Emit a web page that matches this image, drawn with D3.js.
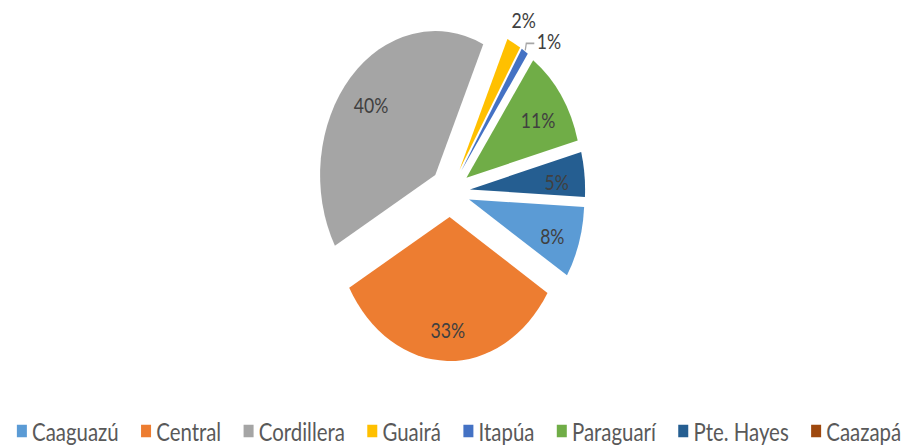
<!DOCTYPE html>
<html><head><meta charset="utf-8">
<script src="https://cdn.jsdelivr.net/npm/d3@7"></script>
<style>html,body{margin:0;padding:0;background:#fff;}</style>
</head><body>
<svg id="chart" width="911" height="445"></svg>
<script>
const categories = ["Caaguazú","Central","Cordillera","Guairá","Itapúa","Paraguarí","Pte. Hayes","Caazapá"];
const values = [8,33,40,2,1,11,5,0];
const colors = ["#5B9BD5","#ED7D31","#A5A5A5","#FFC000","#4472C4","#70AD47","#255E91","#9E480E"];

const W = 911, H = 445;
const SX = 0.8;               // horizontal squish of the original picture
const cx = 450 / SX, cy = 192;
const R = 144, EXPLODE = 25, LABEL_R = 109, OUT_R = 170;
const rad = Math.PI / 180;

const svg = d3.select("#chart");
const g = svg.append("g").attr("transform", `scale(${SX},1)`);

const data = categories.map((c, i) => ({cat: c, value: values[i], color: colors[i]}));
const pie = d3.pie().sort(null).value(d => d.value)
  .startAngle(93 * rad).endAngle(93 * rad + 2 * Math.PI);
const arcs = pie(data).filter(a => a.value > 0);
const arc = d3.arc().innerRadius(0).outerRadius(R);
const labelArc = d3.arc().innerRadius(LABEL_R).outerRadius(LABEL_R);

function off(a, d) {
  const m = (a.startAngle + a.endAngle) / 2;
  return [Math.sin(m) * d, -Math.cos(m) * d];
}

const slices = g.append("g").attr("transform", `translate(${cx},${cy})`);
slices.selectAll("path").data(arcs).join("path")
  .attr("d", arc)
  .attr("fill", d => d.data.color)
  .attr("transform", d => { const o = off(d, EXPLODE); return `translate(${o[0]},${o[1]})`; });

const labels = slices.append("g")
  .attr("font-family", "Lato, 'Open Sans', sans-serif")
  .attr("font-size", 22).attr("fill", "#404040");

let prevOutAngle = null;
arcs.forEach(a => {
  const txt = Math.round(a.value) + "%";
  const o = off(a, EXPLODE);
  if (a.value >= 3) {
    const c = labelArc.centroid(a);
    labels.append("text").attr("x", c[0] + o[0]).attr("y", c[1] + o[1])
      .attr("text-anchor", "middle").attr("dy", "0.55em").text(txt);
  } else {
    const mid = (a.startAngle + a.endAngle) / 2;
    let m = mid, leader = false;
    if (prevOutAngle !== null && m - prevOutAngle < 10 * rad) { m = prevOutAngle + 12 * rad; leader = true; }
    prevOutAngle = m;
    const px = o[0] + Math.sin(m) * OUT_R, py = o[1] - Math.cos(m) * OUT_R;
    const t = labels.append("text").attr("x", px).attr("y", py)
      .attr("text-anchor", "middle").attr("dy", "0.36em").text(txt);
    if (leader) {
      const sx = o[0] + Math.sin(mid) * (R + 1), sy = o[1] - Math.cos(mid) * (R + 1);
      const tw = t.node().getComputedTextLength();
      const ex = px - tw / 2 - 3, ey = py + 2;
      slices.append("polyline")
        .attr("points", `${sx},${sy} ${ex - 10},${ey} ${ex},${ey}`)
        .attr("fill", "none").attr("stroke", "#A6A6A6").attr("stroke-width", 1.6);
    }
  }
});

// legend
const lg = g.append("g").attr("font-family", "Lato, 'Open Sans', sans-serif")
  .attr("font-size", 25.5).attr("fill", "#595959");
const SQ = 12.5, GAP1 = 6.5, GAP2 = 28;
const items = data.map(d => {
  const it = lg.append("g");
  it.append("rect").attr("width", SQ).attr("height", SQ).attr("y", -SQ / 2 - 1).attr("fill", d.color);
  const t = it.append("text").attr("x", SQ + GAP1).attr("dy", "0.35em").text(d.cat);
  return {it, w: SQ + GAP1 + t.node().getComputedTextLength()};
});
const total = d3.sum(items, d => d.w) + GAP2 * (items.length - 1);
let x = 459 / SX - total / 2;
items.forEach(d => { d.it.attr("transform", `translate(${x},${432})`); x += d.w + GAP2; });
</script>
</body></html>
